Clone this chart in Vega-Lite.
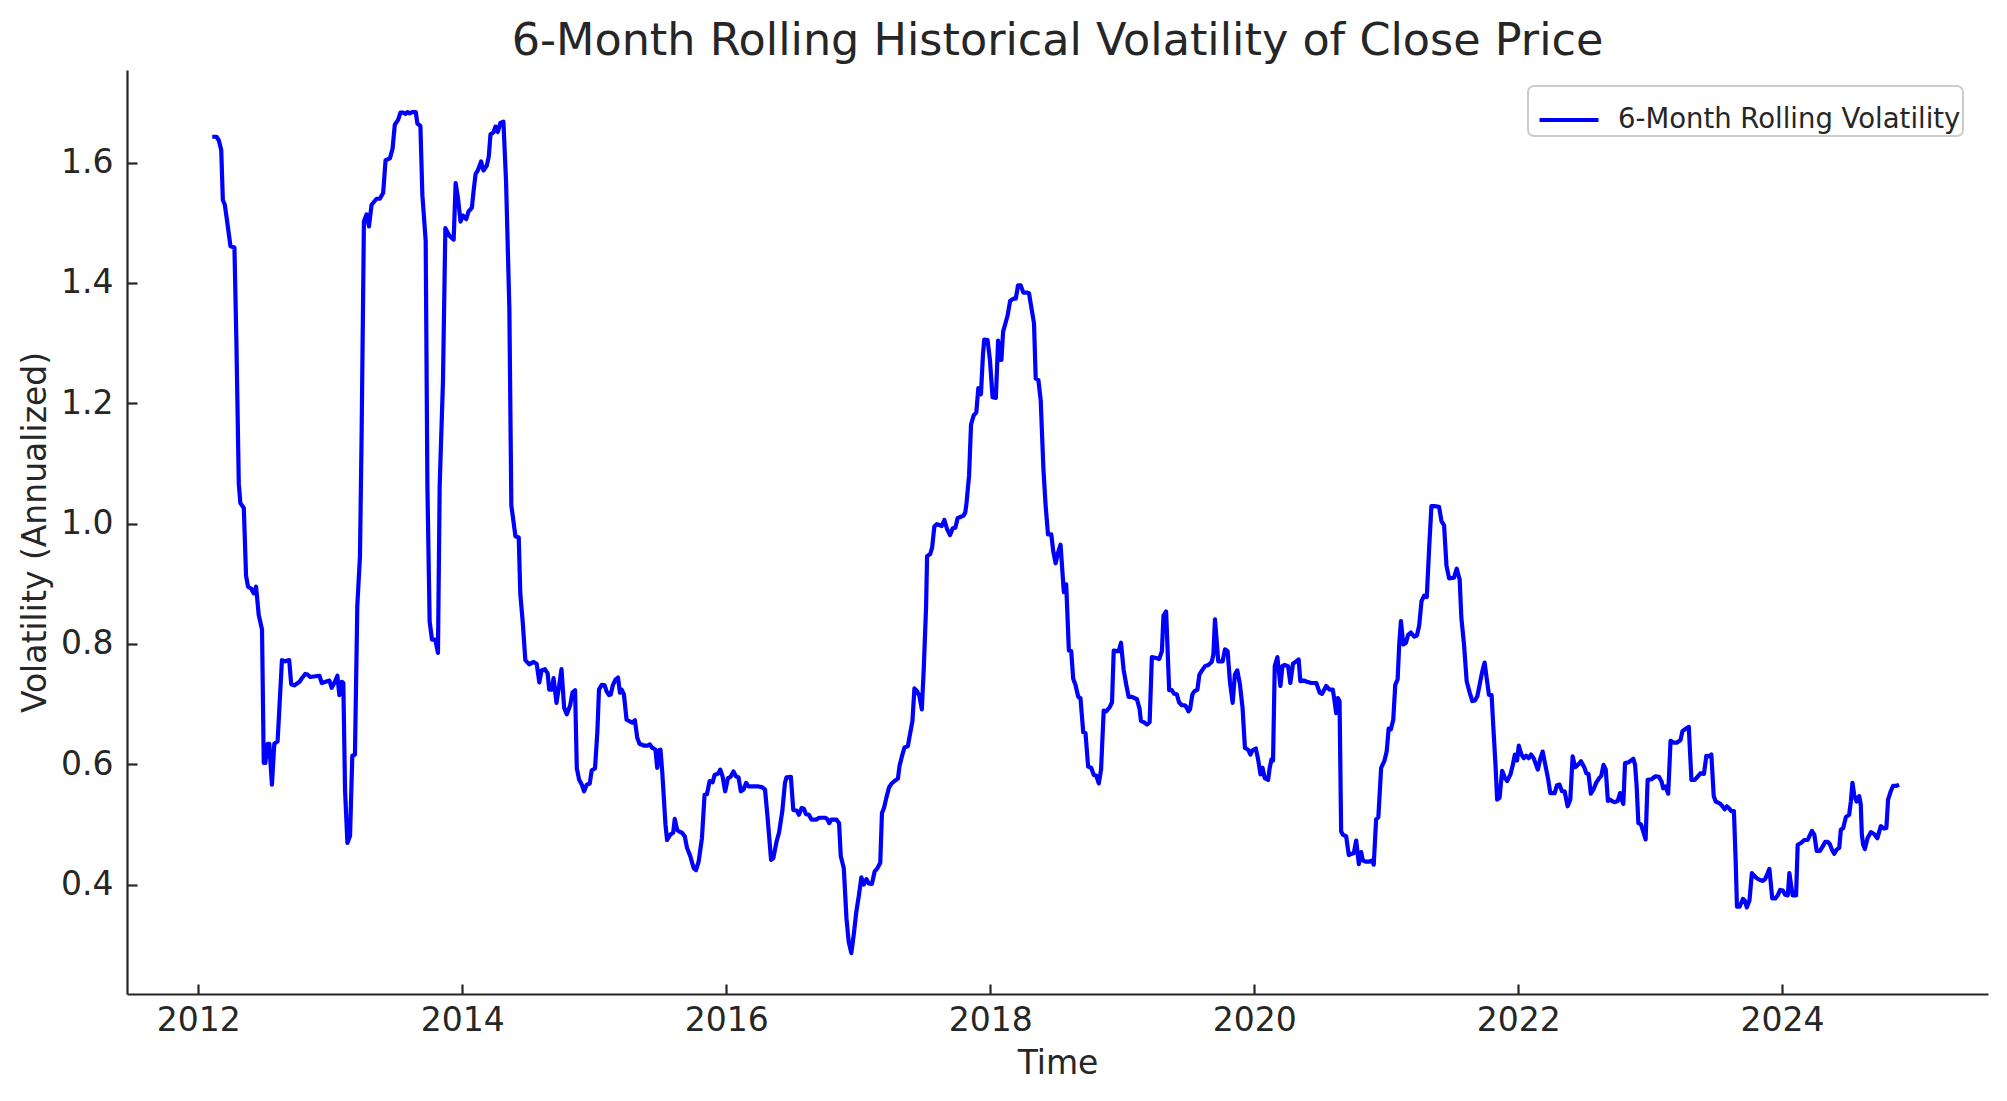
{
"$schema": "https://vega.github.io/schema/vega-lite/v6.json",
"width": 1861, "height": 924,
"autosize": {"type": "none"},
"padding": {"left": 127, "top": 70, "right": 19, "bottom": 107},
"background": "white",
"config": {"font": "DejaVu Sans", "view": {"stroke": null}},
"title": {"text": "6-Month Rolling Historical Volatility of Close Price", "fontSize": 44.5, "fontWeight": "normal", "color": "#262626", "anchor": "middle", "offset": 15, "baseline": "alphabetic", "dy": 44},
"data": {"values": [
{"year":2012.106,"vol":1.643},{"year":2012.138,"vol":1.643},{"year":2012.156,"vol":1.637},{"year":2012.174,"vol":1.621},{"year":2012.186,"vol":1.538},{"year":2012.201,"vol":1.530},{"year":2012.219,"vol":1.502},{"year":2012.244,"vol":1.461},{"year":2012.274,"vol":1.459},{"year":2012.289,"vol":1.300},{"year":2012.307,"vol":1.066},{"year":2012.319,"vol":1.034},{"year":2012.345,"vol":1.026},{"year":2012.362,"vol":0.913},{"year":2012.377,"vol":0.895},{"year":2012.400,"vol":0.892},{"year":2012.420,"vol":0.884},{"year":2012.438,"vol":0.895},{"year":2012.458,"vol":0.848},{"year":2012.483,"vol":0.824},{"year":2012.496,"vol":0.602},{"year":2012.508,"vol":0.602},{"year":2012.526,"vol":0.634},{"year":2012.538,"vol":0.634},{"year":2012.558,"vol":0.566},{"year":2012.576,"vol":0.634},{"year":2012.601,"vol":0.638},{"year":2012.634,"vol":0.773},{"year":2012.659,"vol":0.771},{"year":2012.689,"vol":0.773},{"year":2012.704,"vol":0.733},{"year":2012.727,"vol":0.731},{"year":2012.767,"vol":0.737},{"year":2012.785,"vol":0.743},{"year":2012.810,"vol":0.750},{"year":2012.828,"vol":0.749},{"year":2012.848,"vol":0.745},{"year":2012.918,"vol":0.747},{"year":2012.936,"vol":0.735},{"year":2012.994,"vol":0.739},{"year":2013.011,"vol":0.727},{"year":2013.031,"vol":0.735},{"year":2013.054,"vol":0.747},{"year":2013.069,"vol":0.715},{"year":2013.087,"vol":0.737},{"year":2013.099,"vol":0.735},{"year":2013.112,"vol":0.557},{"year":2013.130,"vol":0.469},{"year":2013.150,"vol":0.481},{"year":2013.167,"vol":0.614},{"year":2013.187,"vol":0.616},{"year":2013.205,"vol":0.864},{"year":2013.225,"vol":0.945},{"year":2013.238,"vol":1.155},{"year":2013.255,"vol":1.502},{"year":2013.275,"vol":1.514},{"year":2013.293,"vol":1.494},{"year":2013.313,"vol":1.530},{"year":2013.351,"vol":1.540},{"year":2013.376,"vol":1.540},{"year":2013.401,"vol":1.550},{"year":2013.419,"vol":1.604},{"year":2013.452,"vol":1.607},{"year":2013.472,"vol":1.623},{"year":2013.489,"vol":1.663},{"year":2013.514,"vol":1.671},{"year":2013.532,"vol":1.683},
{"year":2013.552,"vol":1.683},{"year":2013.570,"vol":1.681},{"year":2013.585,"vol":1.684},{"year":2013.602,"vol":1.682},{"year":2013.620,"vol":1.684},{"year":2013.648,"vol":1.684},{"year":2013.660,"vol":1.665},{"year":2013.683,"vol":1.661},{"year":2013.698,"vol":1.546},{"year":2013.723,"vol":1.470},{"year":2013.736,"vol":1.063},{"year":2013.753,"vol":0.837},{"year":2013.771,"vol":0.807},{"year":2013.796,"vol":0.807},{"year":2013.816,"vol":0.785},{"year":2013.829,"vol":1.063},{"year":2013.854,"vol":1.237},{"year":2013.872,"vol":1.491},{"year":2013.904,"vol":1.478},{"year":2013.935,"vol":1.472},{"year":2013.950,"vol":1.566},{"year":2013.967,"vol":1.542},{"year":2013.987,"vol":1.502},{"year":2014.005,"vol":1.512},{"year":2014.030,"vol":1.506},{"year":2014.048,"vol":1.519},{"year":2014.073,"vol":1.525},{"year":2014.086,"vol":1.553},{"year":2014.101,"vol":1.581},{"year":2014.118,"vol":1.587},{"year":2014.143,"vol":1.602},{"year":2014.161,"vol":1.587},{"year":2014.186,"vol":1.595},{"year":2014.201,"vol":1.610},{"year":2014.214,"vol":1.647},{"year":2014.236,"vol":1.650},{"year":2014.252,"vol":1.660},{"year":2014.269,"vol":1.651},{"year":2014.289,"vol":1.666},{"year":2014.312,"vol":1.668},{"year":2014.332,"vol":1.568},{"year":2014.357,"vol":1.357},{"year":2014.372,"vol":1.030},{"year":2014.403,"vol":0.979},{"year":2014.428,"vol":0.977},{"year":2014.440,"vol":0.883},{"year":2014.458,"vol":0.837},{"year":2014.478,"vol":0.773},{"year":2014.508,"vol":0.766},{"year":2014.538,"vol":0.770},{"year":2014.564,"vol":0.767},{"year":2014.584,"vol":0.736},{"year":2014.601,"vol":0.756},{"year":2014.626,"vol":0.758},{"year":2014.647,"vol":0.751},{"year":2014.659,"vol":0.724},{"year":2014.679,"vol":0.724},{"year":2014.692,"vol":0.743},{"year":2014.714,"vol":0.702},{"year":2014.735,"vol":0.732},{"year":2014.752,"vol":0.758},{"year":2014.772,"vol":0.694},{"year":2014.792,"vol":0.683},{"year":2014.818,"vol":0.698},{"year":2014.835,"vol":0.719},{"year":2014.855,"vol":0.723},{"year":2014.868,"vol":0.593},{"year":2014.886,"vol":0.574},{"year":2014.906,"vol":0.566},{"year":2014.923,"vol":0.555},{"year":2014.943,"vol":0.566},{"year":2014.966,"vol":0.568},{"year":2014.981,"vol":0.590},
{"year":2015.006,"vol":0.593},{"year":2015.024,"vol":0.655},{"year":2015.036,"vol":0.724},{"year":2015.057,"vol":0.732},{"year":2015.079,"vol":0.731},{"year":2015.094,"vol":0.721},{"year":2015.112,"vol":0.715},{"year":2015.125,"vol":0.716},{"year":2015.142,"vol":0.732},{"year":2015.162,"vol":0.741},{"year":2015.180,"vol":0.744},{"year":2015.195,"vol":0.719},{"year":2015.208,"vol":0.724},{"year":2015.225,"vol":0.716},{"year":2015.245,"vol":0.674},{"year":2015.270,"vol":0.671},{"year":2015.288,"vol":0.669},{"year":2015.308,"vol":0.673},{"year":2015.326,"vol":0.644},{"year":2015.343,"vol":0.634},{"year":2015.376,"vol":0.631},{"year":2015.406,"vol":0.631},{"year":2015.421,"vol":0.633},{"year":2015.439,"vol":0.627},{"year":2015.452,"vol":0.626},{"year":2015.464,"vol":0.624},{"year":2015.477,"vol":0.594},{"year":2015.489,"vol":0.623},{"year":2015.502,"vol":0.624},{"year":2015.515,"vol":0.588},{"year":2015.540,"vol":0.499},{"year":2015.552,"vol":0.474},{"year":2015.577,"vol":0.483},{"year":2015.598,"vol":0.486},{"year":2015.610,"vol":0.509},{"year":2015.628,"vol":0.491},{"year":2015.645,"vol":0.488},{"year":2015.665,"vol":0.486},{"year":2015.686,"vol":0.480},{"year":2015.703,"vol":0.461},{"year":2015.728,"vol":0.447},{"year":2015.754,"vol":0.427},{"year":2015.771,"vol":0.424},{"year":2015.791,"vol":0.438},{"year":2015.816,"vol":0.477},{"year":2015.836,"vol":0.549},{"year":2015.854,"vol":0.550},{"year":2015.874,"vol":0.572},{"year":2015.897,"vol":0.570},{"year":2015.912,"vol":0.582},{"year":2015.937,"vol":0.584},{"year":2015.955,"vol":0.591},{"year":2015.972,"vol":0.580},{"year":2015.992,"vol":0.555},{"year":2016.013,"vol":0.577},{"year":2016.033,"vol":0.579},{"year":2016.055,"vol":0.588},{"year":2016.073,"vol":0.580},{"year":2016.093,"vol":0.578},{"year":2016.111,"vol":0.555},{"year":2016.131,"vol":0.558},{"year":2016.151,"vol":0.569},{"year":2016.169,"vol":0.563},{"year":2016.194,"vol":0.563},{"year":2016.219,"vol":0.563},{"year":2016.244,"vol":0.563},{"year":2016.269,"vol":0.562},{"year":2016.294,"vol":0.558},{"year":2016.314,"vol":0.510},{"year":2016.340,"vol":0.441},{"year":2016.357,"vol":0.444},{"year":2016.382,"vol":0.472},{"year":2016.400,"vol":0.486},{"year":2016.425,"vol":0.522},{"year":2016.445,"vol":0.569},{"year":2016.457,"vol":0.578},{"year":2016.490,"vol":0.579},
{"year":2016.508,"vol":0.524},{"year":2016.533,"vol":0.523},{"year":2016.551,"vol":0.516},{"year":2016.571,"vol":0.527},{"year":2016.589,"vol":0.526},{"year":2016.604,"vol":0.517},{"year":2016.626,"vol":0.516},{"year":2016.646,"vol":0.508},{"year":2016.684,"vol":0.508},{"year":2016.704,"vol":0.511},{"year":2016.747,"vol":0.511},{"year":2016.765,"vol":0.509},{"year":2016.780,"vol":0.502},{"year":2016.797,"vol":0.508},{"year":2016.835,"vol":0.508},{"year":2016.855,"vol":0.502},{"year":2016.868,"vol":0.447},{"year":2016.891,"vol":0.427},{"year":2016.911,"vol":0.344},{"year":2016.928,"vol":0.305},{"year":2016.948,"vol":0.286},{"year":2016.966,"vol":0.316},{"year":2016.986,"vol":0.355},{"year":2017.006,"vol":0.383},{"year":2017.024,"vol":0.412},{"year":2017.042,"vol":0.400},{"year":2017.062,"vol":0.409},{"year":2017.079,"vol":0.402},{"year":2017.104,"vol":0.401},{"year":2017.125,"vol":0.422},{"year":2017.145,"vol":0.427},{"year":2017.167,"vol":0.436},{"year":2017.180,"vol":0.519},{"year":2017.195,"vol":0.527},{"year":2017.213,"vol":0.544},{"year":2017.233,"vol":0.561},{"year":2017.250,"vol":0.567},{"year":2017.275,"vol":0.572},{"year":2017.301,"vol":0.576},{"year":2017.313,"vol":0.597},{"year":2017.331,"vol":0.613},{"year":2017.351,"vol":0.628},{"year":2017.376,"vol":0.630},{"year":2017.401,"vol":0.660},{"year":2017.411,"vol":0.672},{"year":2017.426,"vol":0.726},{"year":2017.447,"vol":0.721},{"year":2017.464,"vol":0.713},{"year":2017.482,"vol":0.691},{"year":2017.497,"vol":0.760},{"year":2017.514,"vol":0.860},{"year":2017.522,"vol":0.946},{"year":2017.545,"vol":0.949},{"year":2017.560,"vol":0.960},{"year":2017.577,"vol":0.995},{"year":2017.595,"vol":0.999},{"year":2017.610,"vol":0.998},{"year":2017.633,"vol":0.996},{"year":2017.653,"vol":1.006},{"year":2017.673,"vol":0.991},{"year":2017.696,"vol":0.981},{"year":2017.716,"vol":0.992},{"year":2017.736,"vol":0.993},{"year":2017.753,"vol":1.009},{"year":2017.774,"vol":1.011},{"year":2017.796,"vol":1.013},{"year":2017.811,"vol":1.018},{"year":2017.821,"vol":1.035},
{"year":2017.840,"vol":1.080},{"year":2017.855,"vol":1.165},{"year":2017.875,"vol":1.180},{"year":2017.895,"vol":1.185},{"year":2017.910,"vol":1.225},{"year":2017.930,"vol":1.215},{"year":2017.945,"vol":1.280},
{"year":2017.955,"vol":1.306},{"year":2017.980,"vol":1.305},{"year":2017.998,"vol":1.272},{"year":2018.018,"vol":1.210},{"year":2018.043,"vol":1.209},{"year":2018.060,"vol":1.304},{"year":2018.075,"vol":1.272},{"year":2018.085,"vol":1.272},{"year":2018.098,"vol":1.319},{"year":2018.113,"vol":1.331},{"year":2018.131,"vol":1.345},{"year":2018.151,"vol":1.370},{"year":2018.176,"vol":1.374},{"year":2018.194,"vol":1.374},{"year":2018.211,"vol":1.396},{"year":2018.231,"vol":1.396},{"year":2018.251,"vol":1.384},{"year":2018.277,"vol":1.384},{"year":2018.294,"vol":1.383},{"year":2018.312,"vol":1.359},{"year":2018.332,"vol":1.333},{"year":2018.345,"vol":1.241},{"year":2018.365,"vol":1.239},{"year":2018.383,"vol":1.204},{"year":2018.403,"vol":1.092},{"year":2018.420,"vol":1.030},{"year":2018.438,"vol":0.982},{"year":2018.463,"vol":0.982},{"year":2018.478,"vol":0.954},{"year":2018.496,"vol":0.934},{"year":2018.513,"vol":0.951},{"year":2018.533,"vol":0.965},{"year":2018.558,"vol":0.886},{"year":2018.576,"vol":0.899},{"year":2018.596,"vol":0.789},{"year":2018.614,"vol":0.788},{"year":2018.629,"vol":0.742},{"year":2018.646,"vol":0.732},{"year":2018.667,"vol":0.712},{"year":2018.684,"vol":0.710},{"year":2018.705,"vol":0.653},{"year":2018.722,"vol":0.652},{"year":2018.742,"vol":0.596},{"year":2018.765,"vol":0.594},{"year":2018.785,"vol":0.582},{"year":2018.803,"vol":0.581},{"year":2018.823,"vol":0.568},{"year":2018.840,"vol":0.591},{"year":2018.860,"vol":0.689},{"year":2018.881,"vol":0.688},{"year":2018.906,"vol":0.695},{"year":2018.923,"vol":0.703},{"year":2018.936,"vol":0.789},{"year":2018.961,"vol":0.788},{"year":2018.974,"vol":0.788},{"year":2018.991,"vol":0.802},{"year":2019.011,"vol":0.757},{"year":2019.031,"vol":0.732},{"year":2019.049,"vol":0.712},{"year":2019.074,"vol":0.712},{"year":2019.112,"vol":0.708},{"year":2019.132,"vol":0.692},{"year":2019.142,"vol":0.672},{"year":2019.162,"vol":0.670},{"year":2019.188,"vol":0.666},{"year":2019.208,"vol":0.670},{"year":2019.225,"vol":0.778},{"year":2019.250,"vol":0.777},{"year":2019.281,"vol":0.775},{"year":2019.301,"vol":0.788},{"year":2019.313,"vol":0.847},{"year":2019.333,"vol":0.854},{"year":2019.356,"vol":0.723},{"year":2019.376,"vol":0.723},{"year":2019.394,"vol":0.717},{"year":2019.414,"vol":0.716},{"year":2019.431,"vol":0.703},{"year":2019.452,"vol":0.698},{"year":2019.472,"vol":0.698},
{"year":2019.484,"vol":0.696},{"year":2019.502,"vol":0.688},{"year":2019.514,"vol":0.691},{"year":2019.532,"vol":0.716},{"year":2019.547,"vol":0.721},{"year":2019.570,"vol":0.724},{"year":2019.585,"vol":0.749},{"year":2019.603,"vol":0.755},{"year":2019.628,"vol":0.763},{"year":2019.653,"vol":0.765},{"year":2019.678,"vol":0.770},{"year":2019.691,"vol":0.782},{"year":2019.703,"vol":0.841},{"year":2019.716,"vol":0.805},{"year":2019.728,"vol":0.771},{"year":2019.761,"vol":0.771},{"year":2019.779,"vol":0.791},{"year":2019.799,"vol":0.788},{"year":2019.816,"vol":0.738},{"year":2019.837,"vol":0.702},{"year":2019.854,"vol":0.749},{"year":2019.872,"vol":0.756},{"year":2019.892,"vol":0.733},{"year":2019.912,"vol":0.694},{"year":2019.930,"vol":0.627},{"year":2019.955,"vol":0.624},{"year":2019.972,"vol":0.616},{"year":2019.987,"vol":0.623},{"year":2020.013,"vol":0.626},{"year":2020.030,"vol":0.608},{"year":2020.048,"vol":0.583},{"year":2020.063,"vol":0.594},{"year":2020.080,"vol":0.577},{"year":2020.106,"vol":0.574},{"year":2020.118,"vol":0.594},{"year":2020.131,"vol":0.608},{"year":2020.143,"vol":0.606},{"year":2020.156,"vol":0.763},{"year":2020.176,"vol":0.778},{"year":2020.199,"vol":0.730},{"year":2020.214,"vol":0.763},{"year":2020.231,"vol":0.765},{"year":2020.257,"vol":0.763},{"year":2020.274,"vol":0.735},{"year":2020.294,"vol":0.767},{"year":2020.319,"vol":0.771},{"year":2020.337,"vol":0.774},{"year":2020.350,"vol":0.738},{"year":2020.375,"vol":0.739},{"year":2020.400,"vol":0.737},{"year":2020.433,"vol":0.735},{"year":2020.471,"vol":0.735},{"year":2020.496,"vol":0.719},{"year":2020.514,"vol":0.717},{"year":2020.546,"vol":0.730},{"year":2020.571,"vol":0.724},{"year":2020.596,"vol":0.724},{"year":2020.609,"vol":0.705},{"year":2020.621,"vol":0.685},{"year":2020.634,"vol":0.710},{"year":2020.647,"vol":0.705},{"year":2020.659,"vol":0.488},{"year":2020.672,"vol":0.483},{"year":2020.697,"vol":0.480},{"year":2020.717,"vol":0.449},{"year":2020.735,"vol":0.451},{"year":2020.755,"vol":0.452},{"year":2020.773,"vol":0.473},{"year":2020.793,"vol":0.434},{"year":2020.811,"vol":0.454},{"year":2020.823,"vol":0.440},{"year":2020.843,"vol":0.438},{"year":2020.869,"vol":0.438},{"year":2020.894,"vol":0.440},{"year":2020.906,"vol":0.433},{"year":2020.924,"vol":0.508},{"year":2020.941,"vol":0.512},{"year":2020.962,"vol":0.594},
{"year":2020.986,"vol":0.605},{"year":2021.004,"vol":0.621},{"year":2021.019,"vol":0.659},{"year":2021.036,"vol":0.658},{"year":2021.054,"vol":0.674},{"year":2021.069,"vol":0.732},{"year":2021.087,"vol":0.741},{"year":2021.099,"vol":0.799},{"year":2021.112,"vol":0.838},{"year":2021.130,"vol":0.799},{"year":2021.150,"vol":0.802},{"year":2021.167,"vol":0.815},{"year":2021.187,"vol":0.819},{"year":2021.213,"vol":0.812},{"year":2021.233,"vol":0.814},{"year":2021.250,"vol":0.830},{"year":2021.268,"vol":0.871},{"year":2021.288,"vol":0.880},{"year":2021.308,"vol":0.878},{"year":2021.326,"vol":0.960},{"year":2021.343,"vol":1.029},{"year":2021.364,"vol":1.029},{"year":2021.401,"vol":1.028},{"year":2021.419,"vol":1.004},{"year":2021.439,"vol":0.997},{"year":2021.457,"vol":0.930},{"year":2021.477,"vol":0.909},{"year":2021.514,"vol":0.910},{"year":2021.535,"vol":0.925},{"year":2021.557,"vol":0.907},{"year":2021.570,"vol":0.843},{"year":2021.590,"vol":0.799},{"year":2021.610,"vol":0.738},{"year":2021.633,"vol":0.719},{"year":2021.653,"vol":0.705},{"year":2021.673,"vol":0.706},{"year":2021.691,"vol":0.713},{"year":2021.708,"vol":0.732},{"year":2021.729,"vol":0.755},{"year":2021.746,"vol":0.769},{"year":2021.761,"vol":0.744},{"year":2021.779,"vol":0.715},{"year":2021.799,"vol":0.715},{"year":2021.811,"vol":0.666},{"year":2021.829,"vol":0.597},{"year":2021.841,"vol":0.541},{"year":2021.859,"vol":0.544},{"year":2021.879,"vol":0.589},{"year":2021.899,"vol":0.578},{"year":2021.917,"vol":0.572},{"year":2021.942,"vol":0.583},{"year":2021.960,"vol":0.599},{"year":2021.975,"vol":0.616},{"year":2021.992,"vol":0.606},{"year":2022.005,"vol":0.631},{"year":2022.025,"vol":0.616},{"year":2022.043,"vol":0.610},{"year":2022.060,"vol":0.614},{"year":2022.080,"vol":0.610},{"year":2022.098,"vol":0.616},{"year":2022.118,"vol":0.610},{"year":2022.136,"vol":0.599},{"year":2022.149,"vol":0.591},{"year":2022.169,"vol":0.610},{"year":2022.186,"vol":0.621},{"year":2022.206,"vol":0.599},{"year":2022.226,"vol":0.577},{"year":2022.244,"vol":0.552},{"year":2022.277,"vol":0.552},{"year":2022.294,"vol":0.565},{"year":2022.314,"vol":0.566},{"year":2022.332,"vol":0.555},{"year":2022.352,"vol":0.555},{"year":2022.375,"vol":0.530},{"year":2022.395,"vol":0.541},{"year":2022.413,"vol":0.613},{"year":2022.433,"vol":0.595},{"year":2022.458,"vol":0.600},{"year":2022.476,"vol":0.605},
{"year":2022.503,"vol":0.594},{"year":2022.516,"vol":0.585},{"year":2022.533,"vol":0.584},{"year":2022.551,"vol":0.551},{"year":2022.571,"vol":0.558},{"year":2022.591,"vol":0.569},{"year":2022.614,"vol":0.577},{"year":2022.629,"vol":0.580},{"year":2022.647,"vol":0.599},{"year":2022.664,"vol":0.591},{"year":2022.680,"vol":0.539},{"year":2022.697,"vol":0.541},{"year":2022.717,"vol":0.538},{"year":2022.735,"vol":0.537},{"year":2022.755,"vol":0.539},{"year":2022.772,"vol":0.552},{"year":2022.785,"vol":0.541},{"year":2022.797,"vol":0.534},{"year":2022.810,"vol":0.602},{"year":2022.835,"vol":0.603},{"year":2022.855,"vol":0.606},{"year":2022.873,"vol":0.609},{"year":2022.886,"vol":0.599},{"year":2022.898,"vol":0.563},{"year":2022.911,"vol":0.502},{"year":2022.931,"vol":0.500},{"year":2022.948,"vol":0.488},{"year":2022.966,"vol":0.475},{"year":2022.981,"vol":0.574},{"year":2023.011,"vol":0.575},{"year":2023.041,"vol":0.580},{"year":2023.067,"vol":0.579},{"year":2023.087,"vol":0.571},{"year":2023.099,"vol":0.560},{"year":2023.117,"vol":0.563},{"year":2023.137,"vol":0.551},{"year":2023.155,"vol":0.639},{"year":2023.175,"vol":0.636},{"year":2023.205,"vol":0.636},{"year":2023.230,"vol":0.640},{"year":2023.245,"vol":0.655},{"year":2023.270,"vol":0.659},{"year":2023.293,"vol":0.662},{"year":2023.313,"vol":0.574},{"year":2023.338,"vol":0.574},{"year":2023.363,"vol":0.580},{"year":2023.383,"vol":0.585},{"year":2023.408,"vol":0.584},{"year":2023.426,"vol":0.614},{"year":2023.444,"vol":0.613},{"year":2023.464,"vol":0.616},{"year":2023.482,"vol":0.547},{"year":2023.497,"vol":0.538},{"year":2023.527,"vol":0.535},{"year":2023.545,"vol":0.531},{"year":2023.565,"vol":0.525},{"year":2023.582,"vol":0.530},{"year":2023.597,"vol":0.527},{"year":2023.615,"vol":0.522},{"year":2023.635,"vol":0.522},{"year":2023.648,"vol":0.441},{"year":2023.658,"vol":0.363},{"year":2023.678,"vol":0.363},{"year":2023.703,"vol":0.376},{"year":2023.716,"vol":0.374},{"year":2023.733,"vol":0.362},{"year":2023.753,"vol":0.374},{"year":2023.771,"vol":0.419},{"year":2023.791,"vol":0.414},{"year":2023.811,"vol":0.410},{"year":2023.828,"vol":0.408},{"year":2023.854,"vol":0.406},{"year":2023.871,"vol":0.409},{"year":2023.891,"vol":0.419},{"year":2023.904,"vol":0.426},
{"year":2023.925,"vol":0.377},{"year":2023.950,"vol":0.377},{"year":2023.967,"vol":0.382},{"year":2023.985,"vol":0.391},{"year":2024.005,"vol":0.390},{"year":2024.023,"vol":0.383},{"year":2024.043,"vol":0.382},{"year":2024.055,"vol":0.419},{"year":2024.068,"vol":0.399},{"year":2024.080,"vol":0.382},{"year":2024.106,"vol":0.382},{"year":2024.118,"vol":0.466},{"year":2024.143,"vol":0.469},{"year":2024.168,"vol":0.474},{"year":2024.194,"vol":0.474},{"year":2024.206,"vol":0.480},{"year":2024.226,"vol":0.489},{"year":2024.244,"vol":0.483},{"year":2024.262,"vol":0.456},{"year":2024.287,"vol":0.456},{"year":2024.307,"vol":0.463},{"year":2024.327,"vol":0.471},{"year":2024.345,"vol":0.471},{"year":2024.362,"vol":0.467},{"year":2024.377,"vol":0.458},{"year":2024.395,"vol":0.451},{"year":2024.413,"vol":0.458},{"year":2024.433,"vol":0.461},{"year":2024.445,"vol":0.491},{"year":2024.463,"vol":0.494},{"year":2024.483,"vol":0.512},{"year":2024.508,"vol":0.516},{"year":2024.521,"vol":0.538},{"year":2024.533,"vol":0.569},{"year":2024.546,"vol":0.549},{"year":2024.564,"vol":0.538},{"year":2024.584,"vol":0.547},{"year":2024.596,"vol":0.533},{"year":2024.604,"vol":0.483},{"year":2024.614,"vol":0.466},{"year":2024.627,"vol":0.459},{"year":2024.647,"vol":0.477},{"year":2024.672,"vol":0.487},{"year":2024.697,"vol":0.484},{"year":2024.722,"vol":0.477},{"year":2024.748,"vol":0.497},{"year":2024.773,"vol":0.493},{"year":2024.790,"vol":0.494},{"year":2024.803,"vol":0.541},{"year":2024.823,"vol":0.555},{"year":2024.841,"vol":0.564},{"year":2024.866,"vol":0.564},{"year":2024.886,"vol":0.566}
]},
"mark": {"type": "line", "strokeWidth": 4.2, "strokeJoin": "round"},
"encoding": {
"x": {"field": "year", "type": "quantitative", "title": "Time",
 "scale": {"domain": [2011.46, 2025.56], "nice": false, "zero": false},
 "axis": {"values": [2012, 2014, 2016, 2018, 2020, 2022, 2024], "format": "d", "grid": false, "domainColor": "#262626", "domainWidth": 2.2, "tickColor": "#262626", "tickWidth": 2.2, "tickSize": -10, "labelPadding": 20, "labelFontSize": 33, "labelColor": "#262626", "labelFlush": false, "titleFontSize": 33, "titleFontWeight": "normal", "titleColor": "#262626", "titlePadding": 10}},
"y": {"field": "vol", "type": "quantitative", "title": "Volatility (Annualized)",
 "scale": {"domain": [0.218, 1.754], "nice": false, "zero": false},
 "axis": {"values": [0.4, 0.6, 0.8, 1.0, 1.2, 1.4, 1.6], "format": ".1f", "grid": false, "domainColor": "#262626", "domainWidth": 2.2, "tickColor": "#262626", "tickWidth": 2.2, "tickSize": -10, "labelPadding": 24, "labelFontSize": 33, "labelColor": "#262626", "labelFlush": false, "titleFontSize": 33, "titleFontWeight": "normal", "titleColor": "#262626", "titlePadding": 8}},
"color": {"datum": "6-Month Rolling Volatility", "type": "nominal", "scale": {"range": ["#0000ff"]},
 "legend": {"orient": "none", "legendX": 1401, "legendY": 16, "title": null, "symbolType": "stroke", "symbolStrokeWidth": 4.2, "symbolSize": 3481, "symbolOffset": 7, "labelFontSize": 27.5, "labelLimit": 0, "labelExpr": "datum.label + '\u00a0'", "labelColor": "#262626", "labelOffset": 17, "padding": 2, "fillColor": "white", "strokeColor": "#cccccc", "cornerRadius": 6,
  "encode": {"legend": {"update": {"strokeWidth": {"value": 2}}}}}}
}
}
